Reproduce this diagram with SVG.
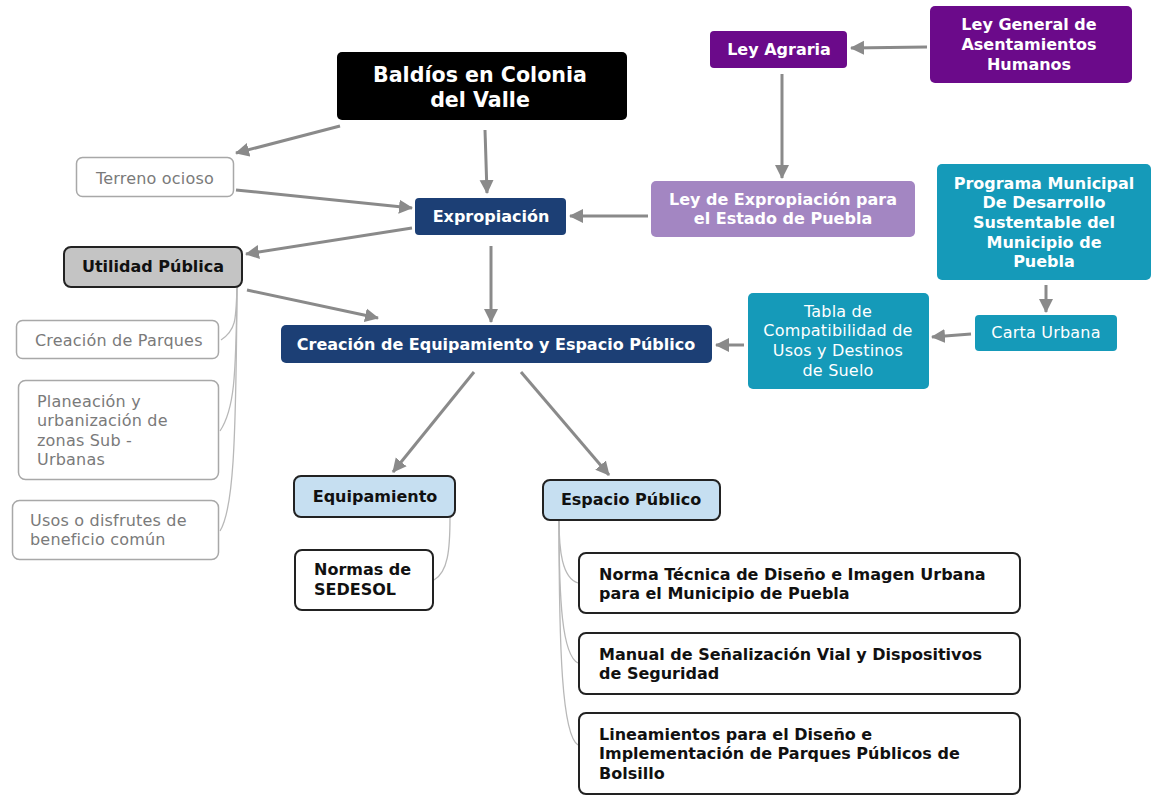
<svg xmlns="http://www.w3.org/2000/svg" width="1151" height="803" viewBox="0 0 1151 803">
<defs>
<marker id="ah" markerUnits="userSpaceOnUse" markerWidth="16" markerHeight="16" refX="13" refY="8" orient="auto">
<path d="M0,1 L14,8 L0,15 Z" fill="#8a8a8a"/>
</marker>
<style>
text{font-family:"DejaVu Sans",Verdana,sans-serif;font-size:16px;letter-spacing:0.2px}
.b{font-weight:bold;font-size:16px;letter-spacing:0}
.w{fill:#ffffff}
.k{fill:#111111}
.g{fill:#7a7a7a}
.c{text-anchor:middle}
.arr{stroke:#8a8a8a;stroke-width:3;fill:none;marker-end:url(#ah)}
.tree{stroke:#b8b8b8;stroke-width:1.3;fill:none}
.light{fill:#ffffff;stroke:#a8a8a8;stroke-width:1.5}
.dark{stroke:#222;stroke-width:2}
</style>
</defs>
<rect width="1151" height="803" fill="#ffffff"/>

<g id="connectors">
<line class="arr" x1="340" y1="126" x2="236" y2="153"/>
<line class="arr" x1="485" y1="130" x2="487" y2="193"/>
<line class="arr" x1="236" y1="190" x2="412" y2="208"/>
<line class="arr" x1="782" y1="74" x2="782" y2="178"/>
<line class="arr" x1="927" y1="47" x2="851" y2="48"/>
<line class="arr" x1="648" y1="216" x2="570" y2="216"/>
<line class="arr" x1="412" y1="228" x2="246" y2="254"/>
<line class="arr" x1="247" y1="290" x2="378" y2="318"/>
<line class="arr" x1="491" y1="246" x2="491" y2="322"/>
<line class="arr" x1="744" y1="345" x2="716" y2="345"/>
<line class="arr" x1="971" y1="334" x2="932" y2="337"/>
<line class="arr" x1="1046" y1="285" x2="1046" y2="312"/>
<line class="arr" x1="474" y1="372" x2="393" y2="472"/>
<line class="arr" x1="521" y1="372" x2="609" y2="475"/>
<path class="tree" d="M237,287 C236,320 236,330 221,340"/>
<path class="tree" d="M237,287 C236,380 234,410 220,431"/>
<path class="tree" d="M237,287 C236,450 233,510 220,531"/>
<path class="tree" d="M450,517 C450,550 448,572 434,580"/>
<path class="tree" d="M559,520 C559,550 562,578 578,583"/>
<path class="tree" d="M559,520 C559,600 562,655 578,663"/>
<path class="tree" d="M559,520 C559,650 562,735 578,745"/>
</g>

<g id="baldios">
<rect x="337" y="52" width="290" height="68" rx="5" fill="#000"/>
<text class="b w c" x="480" y="82" style="font-size:20.6px">Baldíos en Colonia</text>
<text class="b w c" x="480" y="107" style="font-size:20.6px">del Valle</text>
</g>

<g id="terreno">
<rect class="light" x="76.5" y="157.5" width="157" height="39" rx="6"/>
<text class="g c" x="155" y="184">Terreno ocioso</text>
</g>

<g id="expropiacion">
<rect x="415" y="198" width="151" height="37" rx="4" fill="#1c3f75"/>
<text class="b w c" x="491" y="222">Expropiación</text>
</g>

<g id="ley-agraria">
<rect x="710" y="31" width="137" height="37" rx="4" fill="#6b0a8a"/>
<text class="b w c" x="779" y="55">Ley Agraria</text>
</g>

<g id="ley-general">
<rect x="930" y="6" width="202" height="77" rx="5" fill="#6b0a8a"/>
<text class="b w c" x="1029" y="30">Ley General de</text>
<text class="b w c" x="1029" y="50">Asentamientos</text>
<text class="b w c" x="1029" y="70">Humanos</text>
</g>

<g id="ley-expropiacion-puebla">
<rect x="651" y="181" width="264" height="56" rx="5" fill="#a386c2"/>
<text class="b w c" x="783" y="205">Ley de Expropiación para</text>
<text class="b w c" x="783" y="224">el Estado de Puebla</text>
</g>

<g id="programa-municipal">
<rect x="937" y="164" width="214" height="116" rx="5" fill="#159ab9"/>
<text class="b w c" x="1044" y="189">Programa Municipal</text>
<text class="b w c" x="1044" y="208">De Desarrollo</text>
<text class="b w c" x="1044" y="228">Sustentable del</text>
<text class="b w c" x="1044" y="248">Municipio de</text>
<text class="b w c" x="1044" y="267">Puebla</text>
</g>

<g id="carta-urbana">
<rect x="975" y="315" width="142" height="36" rx="4" fill="#159ab9"/>
<text class="w c" x="1046" y="338">Carta Urbana</text>
</g>

<g id="tabla">
<rect x="748" y="293" width="181" height="96" rx="5" fill="#159ab9"/>
<text class="w c" x="838" y="317">Tabla de</text>
<text class="w c" x="838" y="336">Compatibilidad de</text>
<text class="w c" x="838" y="356">Usos y Destinos</text>
<text class="w c" x="838" y="376">de Suelo</text>
</g>

<g id="utilidad">
<rect class="dark" x="64" y="247" width="178" height="40" rx="7" fill="#c4c4c4"/>
<text class="b k c" x="153" y="272">Utilidad Pública</text>
</g>

<g id="parques">
<rect class="light" x="16.5" y="320.5" width="202" height="38" rx="6"/>
<text class="g" x="35" y="346">Creación de Parques</text>
</g>

<g id="planeacion">
<rect class="light" x="18.5" y="380.5" width="200" height="99" rx="7"/>
<text class="g" x="37" y="407">Planeación y</text>
<text class="g" x="37" y="426">urbanización de</text>
<text class="g" x="37" y="446">zonas Sub -</text>
<text class="g" x="37" y="465">Urbanas</text>
</g>

<g id="usos">
<rect class="light" x="12.5" y="500.5" width="206" height="59" rx="7"/>
<text class="g" x="30" y="526">Usos o disfrutes de</text>
<text class="g" x="30" y="545">beneficio común</text>
</g>

<g id="creacion">
<rect x="281" y="325" width="431" height="38" rx="5" fill="#1c3f75"/>
<text class="b w c" x="496" y="350">Creación de Equipamiento y Espacio Público</text>
</g>

<g id="equipamiento">
<rect class="dark" x="294" y="476" width="161" height="41" rx="7" fill="#c6dff1"/>
<text class="b k c" x="375" y="502">Equipamiento</text>
</g>

<g id="espacio">
<rect class="dark" x="543" y="480" width="177" height="40" rx="7" fill="#c6dff1"/>
<text class="b k c" x="631" y="505">Espacio Público</text>
</g>

<g id="sedesol">
<rect class="dark" x="295" y="550" width="138" height="60" rx="7" fill="#fff"/>
<text class="b k" x="314" y="575">Normas de</text>
<text class="b k" x="314" y="595">SEDESOL</text>
</g>

<g id="norma-tecnica">
<rect class="dark" x="579" y="553" width="441" height="60" rx="7" fill="#fff"/>
<text class="b k" x="599" y="580">Norma Técnica de Diseño e Imagen Urbana</text>
<text class="b k" x="599" y="599">para el Municipio de Puebla</text>
</g>

<g id="manual">
<rect class="dark" x="579" y="633" width="441" height="61" rx="7" fill="#fff"/>
<text class="b k" x="599" y="660">Manual de Señalización Vial y Dispositivos</text>
<text class="b k" x="599" y="679">de Seguridad</text>
</g>

<g id="lineamientos">
<rect class="dark" x="579" y="713" width="441" height="81" rx="7" fill="#fff"/>
<text class="b k" x="599" y="740">Lineamientos para el Diseño e</text>
<text class="b k" x="599" y="759">Implementación de Parques Públicos de</text>
<text class="b k" x="599" y="779">Bolsillo</text>
</g>
</svg>
